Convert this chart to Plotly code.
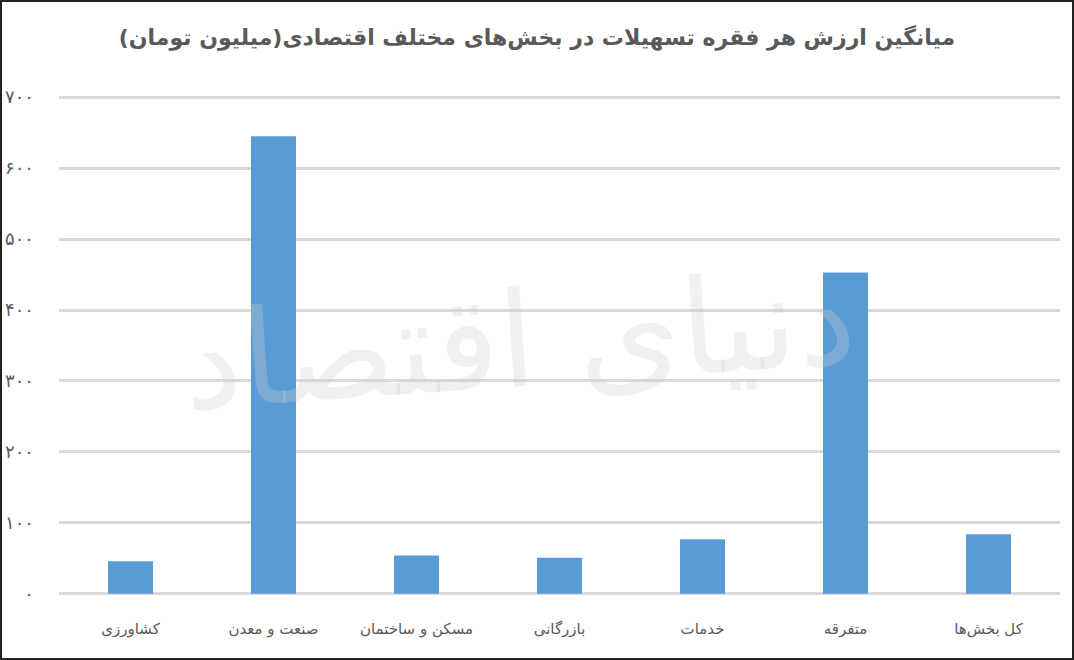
import plotly.graph_objects as go

# average value per loan in each economic sector (million toman)
sectors = ["کشاورزی", "صنعت و معدن", "مسکن و ساختمان", "بازرگانی", "خدمات", "متفرقه", "کل بخش‌ها"]
avg_value = [46, 645, 54, 51, 77, 453, 84]

y_ticks = [0, 100, 200, 300, 400, 500, 600, 700]
y_tick_labels = ["۰", "۱۰۰", "۲۰۰", "۳۰۰", "۴۰۰", "۵۰۰", "۶۰۰", "۷۰۰"]

TITLE = "میانگین ارزش هر فقره تسهیلات در بخش‌های مختلف اقتصادی(میلیون تومان)"
WATERMARK = "دنیای اقتصاد"

W, H = 1074, 660
M = dict(l=59, r=14, t=95, b=64)
FONT = "DejaVu Sans"
GREY = "#595959"

fig = go.Figure(
    go.Bar(
        x=sectors,
        y=avg_value,
        marker=dict(color="#5b9bd5", line=dict(width=0)),
    )
)

fig.update_xaxes(
    showgrid=False,
    showline=False,
    ticks="",
    tickfont=dict(family=FONT, size=15, color=GREY),
    ticklabelstandoff=22,
)
# pad the range a little so the 0 and 700 gridlines are still drawn
fig.update_yaxes(
    range=[-3, 703],
    tickvals=y_ticks,
    ticktext=y_tick_labels,
    showgrid=True,
    gridcolor="#d9d9d9",
    gridwidth=2.5,
    zeroline=False,
    showline=False,
    automargin=False,
    tickfont=dict(family=FONT, size=18, color=GREY),
    ticklabelstandoff=24,
)

# faint watermark across the middle of the plot
fig.add_annotation(
    text=WATERMARK,
    xref="paper",
    yref="paper",
    x=0.46,
    y=0.51,
    showarrow=False,
    textangle=-4,
    font=dict(family=FONT, size=132, color="rgba(205,205,205,0.3)"),
)

# thin dark frame round the whole picture
pw = W - M["l"] - M["r"]
ph = H - M["t"] - M["b"]
fig.add_shape(
    type="rect",
    xref="paper",
    yref="paper",
    x0=-(M["l"] - 1) / pw,
    x1=1 + (M["r"] - 1) / pw,
    y0=-(M["b"] - 1) / ph,
    y1=1 + (M["t"] - 1) / ph,
    line=dict(color="#222222", width=2),
    layer="above",
)

fig.update_layout(
    width=W,
    height=H,
    margin=M,
    title=dict(
        text=TITLE,
        x=0.5,
        xref="container",
        xanchor="center",
        y=1 - 37 / H,
        yanchor="middle",
        font=dict(family=FONT, size=22, color=GREY, weight="bold"),
    ),
    bargap=0.685,
    plot_bgcolor="white",
    paper_bgcolor="white",
    showlegend=False,
)

fig.write_html(
    "out.html",
    config={"displayModeBar": False},
    post_script="document.body.style.margin='0px';",
)
